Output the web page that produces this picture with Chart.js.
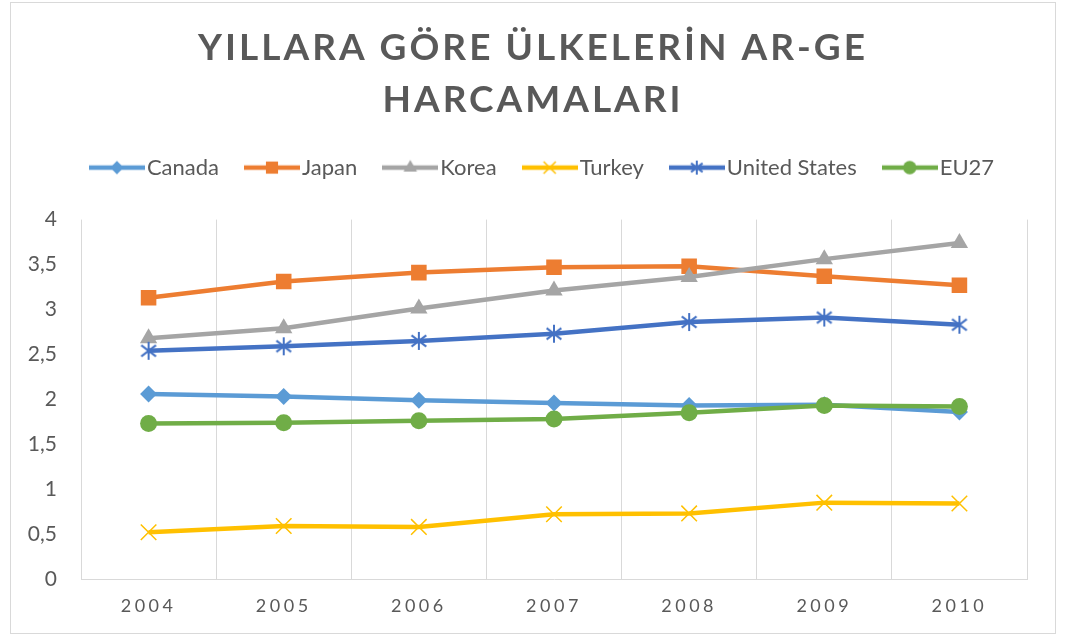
<!doctype html>
<html lang="tr">
<head>
<meta charset="utf-8">
<title>Yıllara Göre Ülkelerin AR-GE Harcamaları</title>
<script src="https://cdn.jsdelivr.net/npm/chart.js@4.4.1/dist/chart.umd.min.js"></script>
<style>
  html, body { margin: 0; background: #fff; }
  .frame {
    position: absolute; left: 10px; top: 2px;
    width: 1046px; height: 632px;
    box-sizing: border-box; border: 1px solid #d9d9d9;
  }
</style>
</head>
<body>
<div class="frame"><canvas id="argeChart"></canvas></div>
<script>
// values
const years = ['2004', '2005', '2006', '2007', '2008', '2009', '2010'];
const canada = [2.06, 2.03, 1.99, 1.96, 1.93, 1.94, 1.86];
const japan  = [3.13, 3.31, 3.41, 3.47, 3.48, 3.37, 3.27];
const korea  = [2.68, 2.79, 3.01, 3.21, 3.36, 3.56, 3.74];
const turkey = [0.52, 0.59, 0.58, 0.72, 0.73, 0.85, 0.84];
const usa    = [2.54, 2.59, 2.65, 2.73, 2.86, 2.91, 2.83];
const eu27   = [1.73, 1.74, 1.76, 1.78, 1.85, 1.93, 1.92];

const seriesNames = ['Canada', 'Japan', 'Korea', 'Turkey', 'United States', 'EU27'];
const seriesData = [canada, japan, korea, turkey, usa, eu27];
const titleLines = ['YILLARA GÖRE ÜLKELERİN AR-GE', 'HARCAMALARI'];
const yMin = 0, yMax = 4, yStep = 0.5;

const colors = ['#5B9BD5', '#ED7D31', '#A5A5A5', '#FFC000', '#4472C4', '#70AD47'];
const markers = ['diamond', 'square', 'triangle', 'x', 'asterisk', 'circle'];
const markerSize = [8.5, 11, 10, 11, 9, 8.5];
const textColor = '#595959';
const gridColor = '#d9d9d9';

// small marker painter for the legend icons and the asterisk point
function drawMarker(ctx, kind, r, x, y, color) {
  ctx.save();
  ctx.fillStyle = color;
  ctx.strokeStyle = color;
  ctx.lineWidth = kind === 'asterisk' ? 2 : 1.5;
  ctx.beginPath();
  if (kind === 'diamond') {
    ctx.moveTo(x, y - r); ctx.lineTo(x + r, y); ctx.lineTo(x, y + r); ctx.lineTo(x - r, y);
    ctx.closePath(); ctx.fill();
  } else if (kind === 'square') {
    const s = r * Math.SQRT1_2;
    ctx.rect(x - s, y - s, 2 * s, 2 * s); ctx.fill();
  } else if (kind === 'triangle') {
    ctx.moveTo(x, y - r); ctx.lineTo(x + r * 0.866, y + r * 0.5); ctx.lineTo(x - r * 0.866, y + r * 0.5);
    ctx.closePath(); ctx.fill();
  } else if (kind === 'circle') {
    ctx.arc(x, y, r, 0, Math.PI * 2); ctx.fill();
  } else if (kind === 'x') {
    const s = r * Math.SQRT1_2;
    ctx.moveTo(x - s, y - s); ctx.lineTo(x + s, y + s);
    ctx.moveTo(x + s, y - s); ctx.lineTo(x - s, y + s);
    ctx.stroke();
  } else if (kind === 'asterisk') {
    const dx = r * 0.82, dy = r * 0.62;
    ctx.moveTo(x, y - r); ctx.lineTo(x, y + r);
    ctx.moveTo(x - dx, y - dy); ctx.lineTo(x + dx, y + dy);
    ctx.moveTo(x + dx, y - dy); ctx.lineTo(x - dx, y + dy);
    ctx.stroke();
  }
  ctx.restore();
}

function asteriskImage(color, r) {
  const c = document.createElement('canvas');
  c.width = c.height = Math.ceil(r * 2 + 4);
  drawMarker(c.getContext('2d'), 'asterisk', r, c.width / 2, c.height / 2, color);
  return c;
}

function legendIcon(i) {
  const c = document.createElement('canvas');
  c.width = 56; c.height = 22;
  const ctx = c.getContext('2d');
  ctx.strokeStyle = colors[i];
  ctx.lineWidth = 4.5;
  ctx.beginPath(); ctx.moveTo(0, 11); ctx.lineTo(56, 11); ctx.stroke();
  drawMarker(ctx, markers[i], markerSize[i] * 0.78, 28, 11, colors[i]);
  return c;
}

const chartStyles = {
  diamond: 'rectRot', square: 'rect', triangle: 'triangle',
  x: 'crossRot', circle: 'circle'
};

const datasets = seriesNames.map((name, i) => ({
  label: name,
  data: seriesData[i],
  borderColor: colors[i],
  backgroundColor: colors[i],
  borderWidth: 4.5,
  tension: 0,
  pointStyle: markers[i] === 'asterisk' ? asteriskImage(colors[i], markerSize[i]) : chartStyles[markers[i]],
  pointRadius: markerSize[i],
  pointHoverRadius: markerSize[i],
  pointBackgroundColor: colors[i],
  pointBorderColor: colors[i],
  pointBorderWidth: markers[i] === 'x' ? 1.5 : 0,
  order: seriesNames.length - i
}));

// canvas text has no letter-spacing option, so wrap the draw calls that need it
function wrapDraw(obj, method, spacing, dx) {
  if (!obj || obj['_wr_' + method]) return;
  const orig = obj[method];
  obj[method] = function (...args) {
    this.ctx.save();
    if (spacing) this.ctx.letterSpacing = spacing;
    if (dx) this.ctx.translate(dx, 0);
    orig.apply(this, args);
    this.ctx.restore();
  };
  obj['_wr_' + method] = true;
}

const textTweaks = {
  id: 'textTweaks',
  beforeDraw(chart) {
    wrapDraw(chart.titleBlock, 'draw', '3px', 0);
    wrapDraw(chart.scales.x, 'drawLabels', '3.5px', 0);
    // legend rows count the trailing padding, nudge back to the centre
    wrapDraw(chart.legend, 'draw', null, 13);
  }
};

const chart = new Chart(document.getElementById('argeChart'), {
  type: 'line',
  data: { labels: years, datasets: datasets },
  plugins: [textTweaks],
  options: {
    responsive: true,
    maintainAspectRatio: false,
    animation: false,
    layout: { padding: 0 },
    plugins: {
      title: {
        display: true,
        text: titleLines,
        color: textColor,
        font: { family: 'Lato', size: 37, weight: 'bold', lineHeight: 1.4 },
        padding: { top: 19, bottom: -3 }
      },
      subtitle: {
        // empty spacer between legend and plot
        display: true,
        text: '',
        weight: 500,
        font: { size: 1, lineHeight: 1 },
        padding: { top: 0, bottom: 30 }
      },
      legend: {
        position: 'top',
        labels: {
          usePointStyle: true,
          pointStyleWidth: 38,
          padding: 34,
          color: textColor,
          font: { family: 'Lato', size: 22 },
          generateLabels: (c) => c.data.datasets.map((ds, i) => ({
            text: ds.label,
            fillStyle: colors[i],
            strokeStyle: colors[i],
            lineWidth: 0,
            fontColor: textColor,
            pointStyle: legendIcon(i),
            hidden: !c.isDatasetVisible(i),
            datasetIndex: i
          }))
        }
      },
      tooltip: { enabled: false }
    },
    scales: {
      x: {
        offset: true,
        grid: { display: true, offset: true, color: gridColor, lineWidth: 1, drawTicks: false },
        border: { display: true, color: gridColor, width: 1 },
        ticks: { color: textColor, font: { family: 'Lato', size: 18 }, padding: 16 },
        afterFit: (s) => { s.height = 54; }
      },
      y: {
        min: yMin,
        max: yMax,
        grid: { display: false, drawTicks: false },
        border: { display: false },
        ticks: {
          stepSize: yStep,
          color: textColor,
          padding: 24,
          font: { family: 'Lato', size: 21 },
          callback: (v) => String(v).replace('.', ',')
        },
        afterFit: (s) => { s.width = 70; }
      },
      // empty right-hand margin so the title and legend stay centred on the frame
      yRight: {
        position: 'right',
        display: true,
        grid: { display: false, drawTicks: false },
        border: { display: false },
        ticks: { display: false },
        afterFit: (s) => { s.width = 28; }
      }
    }
  }
});
</script>
</body>
</html>
